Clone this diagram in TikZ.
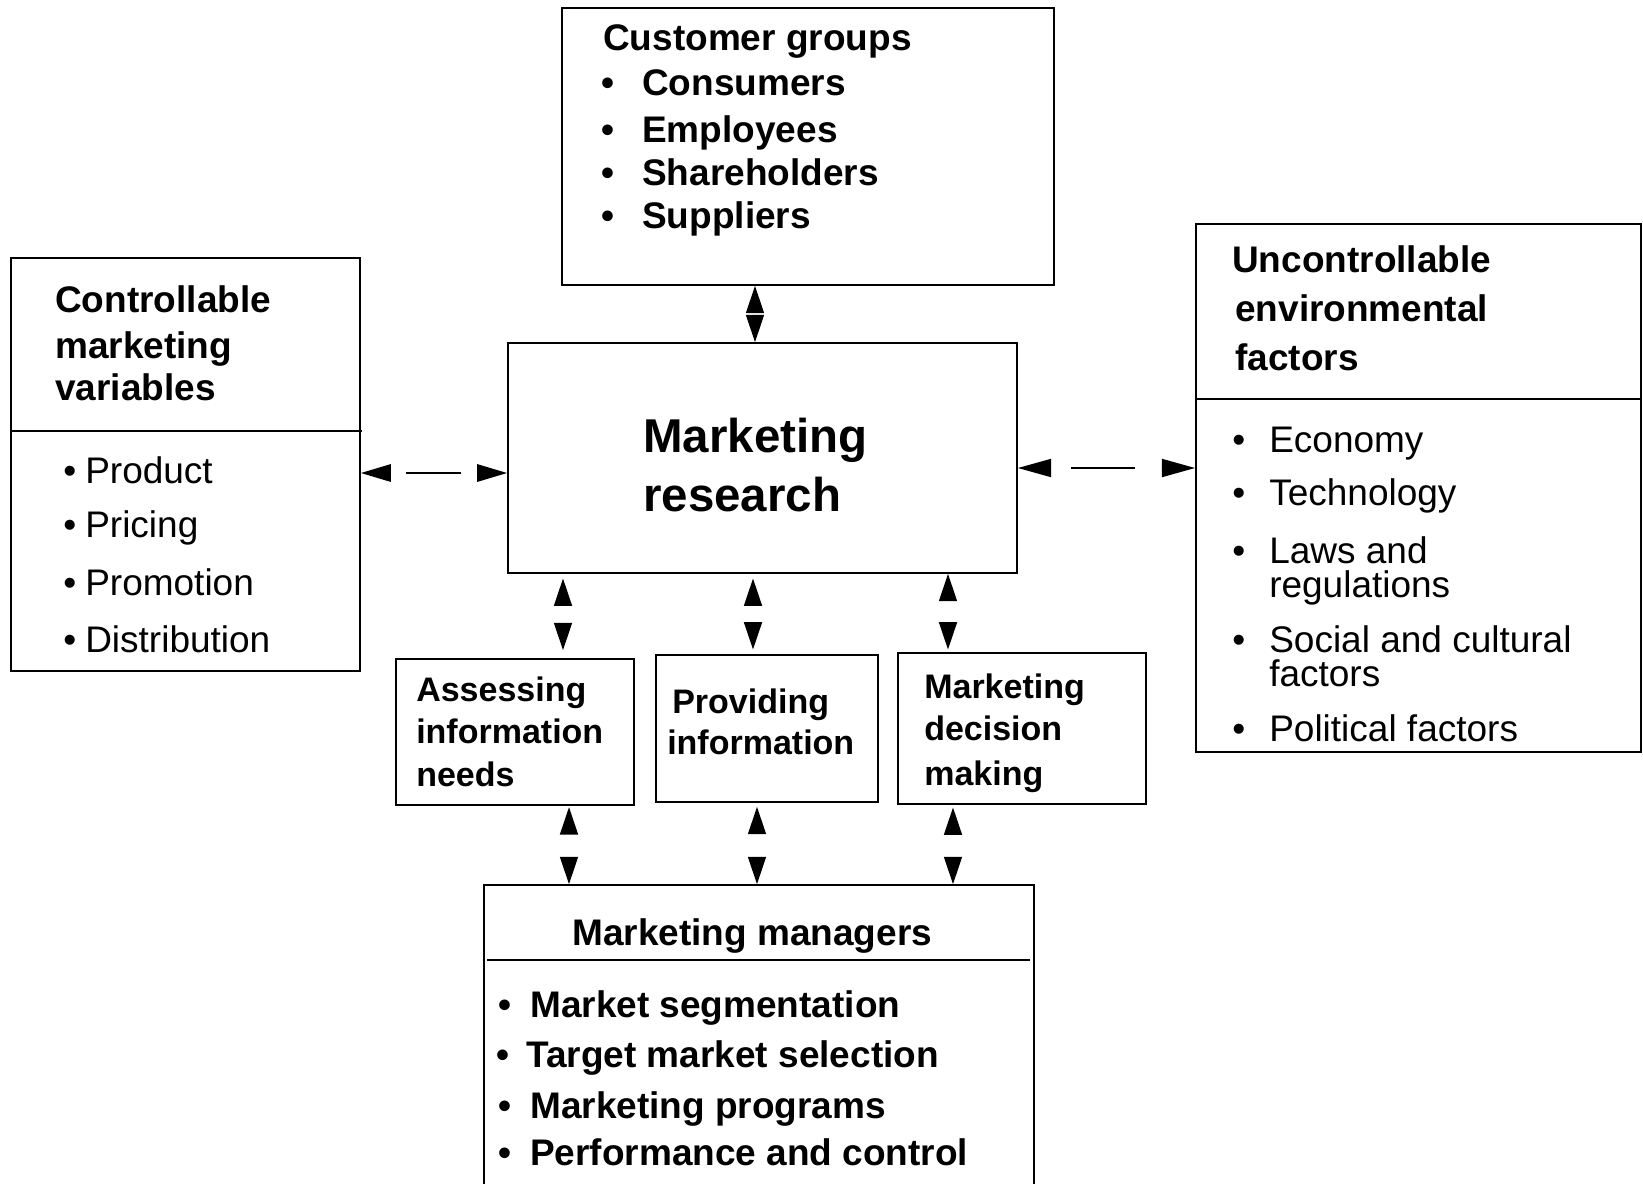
\documentclass[tikz,border=0pt]{standalone}
\usepackage{fontspec}
\setmainfont{Liberation Sans}
\usetikzlibrary{arrows.meta,fit}
\begin{document}
\begin{tikzpicture}[x=0.75pt,y=-0.75pt,
  box/.style={draw, line width=1.3pt, inner sep=0pt},
  rule/.style={line width=1.2pt},
  hd/.style={anchor=base west, inner sep=0pt, font=\fontsize{27.75}{33}\selectfont\bfseries},
  it/.style={anchor=base west, inner sep=0pt, font=\fontsize{27.75}{33}\selectfont},
  big/.style={anchor=base west, inner sep=0pt, font=\fontsize{35.6}{42}\selectfont\bfseries},
  sm/.style={anchor=base west, inner sep=0pt, font=\fontsize{25.5}{30}\selectfont\bfseries},
  vlink/.style={{Triangle[length=20.5pt,width=13.5pt]}-{Triangle[length=20.5pt,width=13.5pt]},
    line width=1.2pt, dash pattern=on 0pt off 2000pt},
  hlinkL/.style={{Triangle[length=22.5pt,width=13pt]}-{Triangle[length=22.5pt,width=13pt]},
    line width=1.5pt, dash pattern=on 0pt off 12pt on 41pt off 2000pt},
  hlinkR/.style={{Triangle[length=25pt,width=13.5pt]}-{Triangle[length=25pt,width=13.5pt]},
    line width=1.5pt, dash pattern=on 0pt off 15pt on 48pt off 2000pt}
]
\useasboundingbox (0,0) rectangle (1643,1183);
\clip (0,0) rectangle (1643,1183);

% boxes
\node[box, fit={(562,8) (1054,285)}] (cg) {};
\node[box, fit={(11,258) (360,671)}] (cmv) {};
\node[box, fit={(508,343) (1017,573)}] (mr) {};
\node[box, fit={(1196,224) (1641,752)}] (uef) {};
\node[box, fit={(396,659) (634,805)}] (ain) {};
\node[box, fit={(656,655) (878,802)}] (pin) {};
\node[box, fit={(898,653) (1146,804)}] (mdm) {};
\node[box, fit={(484,885) (1034,1210)}] (mm) {};

% dividers
\draw[rule] (11,431) -- (362,431);
\draw[rule] (1196,399) -- (1641,399);
\draw[rule] (487,960) -- (1030,960);

% customer groups
\node[hd] (cgh) at (603,50) {Customer groups};
\foreach \y/\t [count=\i] in {95/Consumers,142/Employees,185/Shareholders,228/Suppliers}{
  \node[hd] (cgb\i) at (601,\y) {•};
  \node[hd] (cgt\i) at (642,\y) {\t};
}

% controllable variables
\node[hd] (cmv1) at (55,312) {Controllable};
\node[hd] (cmv2) at (55,358) {marketing};
\node[hd] (cmv3) at (55,400) {variables};
\foreach \y/\t [count=\i] in {483/Product,537/Pricing,595/Promotion,652/Distribution}{
  \node[it] (cmvb\i) at (63,\y) {•};
  \node[it] (cmvt\i) at (85,\y) {\t};
}

% marketing research
\node[big] (mr1) at (643,452) {Marketing};
\node[big] (mr2) at (643,511) {research};

% uncontrollable factors
\node[hd] (uef1) at (1232,272) {Uncontrollable};
\node[hd] (uef2) at (1235,321) {environmental};
\node[hd] (uef3) at (1235,370) {factors};
\foreach \y/\t [count=\i] in {452/Economy,505/Technology,563/Laws and,652/Social and cultural,741/Political factors}{
  \node[it] (uefb\i) at (1232,\y) {•};
  \node[it] (ueft\i) at (1269,\y) {\t};
}
\node[it] (uefc1) at (1269,597) {regulations};
\node[it] (uefc2) at (1269,686) {factors};

% activity boxes
\node[sm] (a1) at (416,701) {Assessing};
\node[sm] (a2) at (416,743) {information};
\node[sm] (a3) at (416,786) {needs};
\node[sm] (p1) at (672,713) {Providing};
\node[sm] (p2) at (667,754) {information};
\node[sm] (d1) at (924,698) {Marketing};
\node[sm] (d2) at (924,740) {decision};
\node[sm] (d3) at (924,785) {making};

% marketing managers
\node[hd] (mmh) at (572,945) {Marketing managers};
\foreach \y/\t/\bx/\tx [count=\i] in {1017/Market segmentation/498/530,1067/Target market selection/496/526,1118/Marketing programs/498/530,1165/Performance and control/498/530}{
  \node[hd] (mmb\i) at (\bx,\y) {•};
  \node[hd] (mmt\i) at (\tx,\y) {\t};
}

% connector positions
\coordinate (yl) at (0,473);
\coordinate (yr) at (0,468);
\coordinate (xt) at (755,0);
\coordinate (xa) at (563,0);
\coordinate (xp) at (753,0);
\coordinate (xd) at (948,0);
\coordinate (xa2) at (569,0);
\coordinate (xp2) at (757,0);
\coordinate (xd2) at (953,0);

% connectors
\draw[hlinkL] (cmv.east |- yl) -- (mr.west |- yl);
\draw[hlinkR] (mr.east |- yr) -- (uef.west |- yr);
\draw[vlink] (cg.south -| xt) -- (mr.north -| xt);
\draw[vlink, shorten <=3.5pt, shorten >=6pt] (mr.south -| xa) -- (ain.north -| xa);
\draw[vlink, shorten <=3.5pt, shorten >=3.5pt] (mr.south -| xp) -- (pin.north -| xp);
\draw[vlink, shorten >=2pt] (mr.south -| xd) -- (mdm.north -| xd);
\draw[vlink, shorten <=1pt] (ain.south -| xa2) -- (mm.north -| xa2);
\draw[vlink, shorten <=3pt] (pin.south -| xp2) -- (mm.north -| xp2);
\draw[vlink, shorten <=2pt] (mdm.south -| xd2) -- (mm.north -| xd2);
\end{tikzpicture}
\end{document}
